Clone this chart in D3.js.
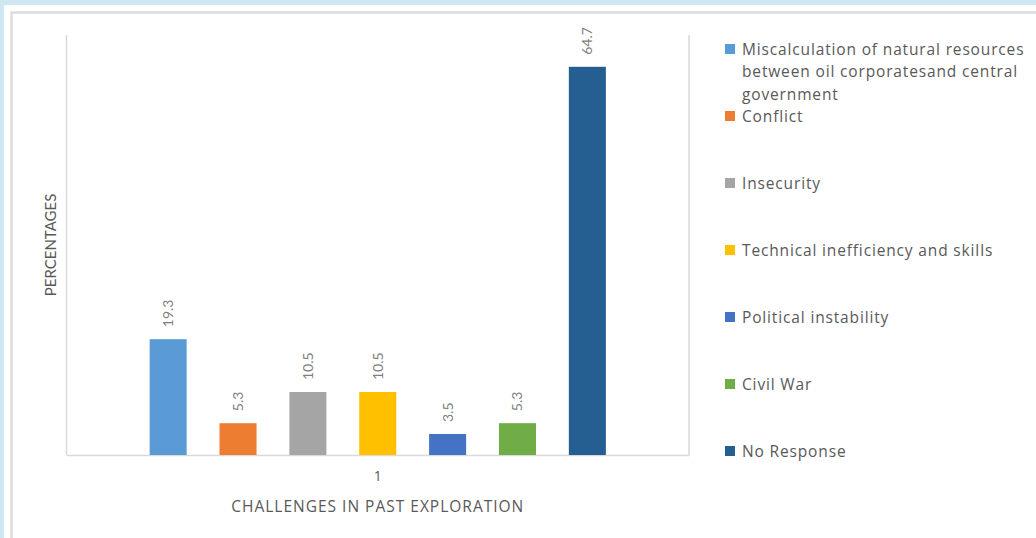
<!DOCTYPE html>
<html>
<head>
<meta charset="utf-8">
<script src="https://cdn.jsdelivr.net/npm/d3@7"></script>
<style>
  html, body { margin: 0; padding: 0; background: #cfe7f3; }
  svg { display: block; }
</style>
</head>
<body>
<svg id="chart" width="1036" height="538"></svg>
<script>
// Survey responses: challenges in past exploration (percent of respondents)
const categories = ["1"];
const seriesNames = [
  "Miscalculation of natural resources between oil corporatesand central government",
  "Conflict",
  "Insecurity",
  "Technical inefficiency and skills",
  "Political instability",
  "Civil War",
  "No Response"
];
const legendLines = [
  ["Miscalculation of natural resources", "between oil corporatesand central", "government"],
  ["Conflict"],
  ["Insecurity"],
  ["Technical inefficiency and skills"],
  ["Political instability"],
  ["Civil War"],
  ["No Response"]
];
const values = [19.3, 5.3, 10.5, 10.5, 3.5, 5.3, 64.7];
const colors = ["#5b9bd5", "#ed7d31", "#a5a5a5", "#ffc000", "#4472c4", "#70ad47", "#255e91"];
const xTitle = "CHALLENGES IN PAST EXPLORATION";
const yTitle = "PERCENTAGES";

const svg = d3.select("#chart");
const W = 1036, H = 538;
const FONT = "Lato, 'Open Sans', sans-serif";
const WIDE = "'Open Sans', Lato, sans-serif";
const TEXT = "#595959";

// page frame: light blue surround, white panel with soft grey edge
svg.append("rect").attr("x", 0).attr("y", 0).attr("width", W).attr("height", H).attr("fill", "#cfe7f3");
svg.append("rect").attr("x", 4).attr("y", 5).attr("width", W).attr("height", H).attr("fill", "#ffffff");
svg.append("rect").attr("x", 11.5).attr("y", 12.5).attr("width", W).attr("height", H)
  .attr("fill", "none").attr("stroke", "#dcdcdc").attr("stroke-width", 2.5);

// plot area
const plot = { left: 66.5, right: 689, top: 35, bottom: 455 };

const x0 = d3.scaleBand().domain(categories).range([plot.left, plot.right]).padding(0);
const x1 = d3.scaleBand().domain(seriesNames).range([0, x0.bandwidth()])
  .paddingInner(0.47).paddingOuter(1.19);
const y = d3.scaleLinear().domain([0, 70]).range([plot.bottom, plot.top]);

const axisColor = "#d9d9d9";
svg.append("line").attr("x1", plot.left).attr("x2", plot.left).attr("y1", plot.top).attr("y2", plot.bottom)
  .attr("stroke", axisColor).attr("stroke-width", 1.5);
svg.append("line").attr("x1", plot.right).attr("x2", plot.right).attr("y1", plot.top).attr("y2", plot.bottom)
  .attr("stroke", axisColor).attr("stroke-width", 1.5);

// category axis
const xAxis = svg.append("g").attr("transform", `translate(0,${plot.bottom})`)
  .call(d3.axisBottom(x0).tickSize(0).tickPadding(16));
xAxis.select(".domain").attr("stroke", axisColor).attr("stroke-width", 1.5);
xAxis.selectAll("text").attr("font-family", WIDE).attr("font-size", 14).attr("fill", TEXT);

// bars
const group = svg.append("g").selectAll("g").data(categories).join("g")
  .attr("transform", d => `translate(${x0(d)},0)`);

const rows = seriesNames.map((s, i) => ({ name: s, value: values[i], color: colors[i] }));

group.selectAll("rect").data(rows).join("rect")
  .attr("x", d => x1(d.name))
  .attr("y", d => y(d.value))
  .attr("width", x1.bandwidth())
  .attr("height", d => y(0) - y(d.value))
  .attr("fill", d => d.color);

// value labels, rotated
group.selectAll("text.val").data(rows).join("text")
  .attr("class", "val")
  .attr("transform", d => `translate(${x1(d.name) + x1.bandwidth() / 2 + 5},${y(d.value) - 12}) rotate(-90)`)
  .attr("text-anchor", "start")
  .attr("font-family", FONT).attr("font-size", 14).attr("fill", "#7f7f7f")
  .text(d => d.value.toFixed(1));

// axis titles
svg.append("text")
  .attr("x", (plot.left + plot.right) / 2).attr("y", 512)
  .attr("text-anchor", "middle")
  .attr("font-family", WIDE).attr("font-size", 15.5).attr("letter-spacing", 1).attr("fill", TEXT)
  .text(xTitle);

svg.append("text")
  .attr("transform", `translate(56,${(plot.top + plot.bottom) / 2}) rotate(-90)`)
  .attr("text-anchor", "middle")
  .attr("font-family", FONT).attr("font-size", 15).attr("fill", TEXT)
  .text(yTitle);

// legend
const ly = d3.scalePoint().domain(d3.range(seriesNames.length)).range([49, 451]);
const legend = svg.append("g").selectAll("g").data(rows).join("g")
  .attr("transform", (d, i) => `translate(725,${ly(i)})`);
legend.append("rect").attr("x", 0).attr("y", -5).attr("width", 10).attr("height", 10)
  .attr("fill", d => d.color);
legend.append("text")
  .attr("font-family", WIDE).attr("font-size", 15.5).attr("letter-spacing", 0.85).attr("fill", TEXT)
  .selectAll("tspan").data((d, i) => legendLines[i]).join("tspan")
  .attr("x", 17).attr("y", (t, j) => 5.5 + j * 22.5)
  .text(t => t);
</script>
</body>
</html>
